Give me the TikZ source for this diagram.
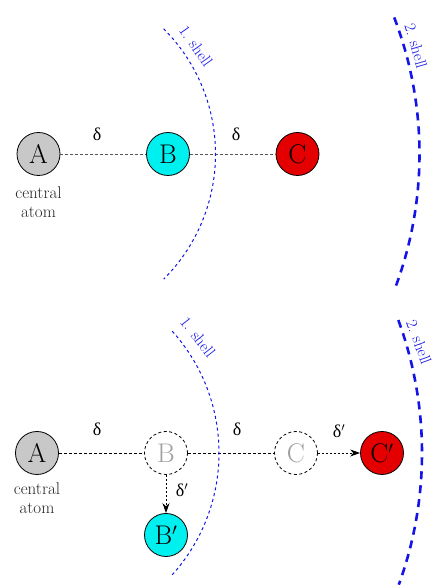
\documentclass[tikz,border=0pt]{standalone}
\usepackage{fontspec}
\newfontfamily\grk{Liberation Serif}
\usetikzlibrary{arrows.meta}
\definecolor{atomgrey}{RGB}{200,200,200}
\definecolor{atomcyan}{RGB}{0,240,240}
\definecolor{atomred}{RGB}{228,0,0}
\definecolor{shellblue}{RGB}{20,20,230}
\definecolor{ghostgrey}{RGB}{160,160,160}
\definecolor{linkgrey}{RGB}{85,85,85}
\tikzset{
  atom/.style={circle,draw=black,line width=0.8pt,minimum size=43pt,inner sep=0pt,font=\fontsize{27}{29}\selectfont},
  ghost/.style={atom,dashed,text=ghostgrey,dash pattern=on 3pt off 2.5pt},
  link/.style={line width=0.8pt,dash pattern=on 3pt off 2pt},
  move/.style={line width=0.8pt,dash pattern=on 2pt off 2pt,-{Stealth[length=10pt,width=7pt]}},
  dlabel/.style={font=\grk\fontsize{18}{20}\selectfont},
  caption/.style={align=center,font=\fontsize{17}{19}\selectfont,text=black!85},
  shellone/.style={draw=shellblue,line width=1pt,dash pattern=on 3pt off 3pt},
  shelltwo/.style={draw=shellblue,line width=2.6pt,dash pattern=on 8pt off 6pt},
  shelllabel/.style={text=shellblue,font=\fontsize{16}{18}\selectfont,inner sep=0pt}
}
\begin{document}
\begin{tikzpicture}[x=1pt,y=1pt]
\useasboundingbox (0,0) rectangle (435,585);
% ---------- top panel ----------
\node[atom,fill=atomgrey] (A1) at (38.5,431) {A};
\node[atom,fill=atomcyan] (B1) at (168,431) {B};
\node[atom,fill=atomred] (C1) at (297.5,431) {C};
\draw[link,draw=linkgrey] (A1) -- (B1);
\draw[link,draw=linkgrey] (B1) -- (C1);
\node[dlabel] (d1) at (97,451) {δ};
\node[dlabel] (d2) at (236,451) {δ};
\node[caption] (ca1) at (38.5,383) {central\\atom};
\draw[shellone] ([shift={(A1.center)}]45:177) arc[start angle=45,end angle=-45,radius=177];
\draw[shelltwo] ([shift={(A1.center)}]21:381) arc[start angle=21,end angle=-21,radius=381];
\node[shelllabel,rotate=-55] (s11) at (196,539) {1. shell};
\node[shelllabel,rotate=-74] (s21) at (416,539) {2. shell};
% ---------- bottom panel ----------
\node[atom,fill=atomgrey] (A2) at (37,132) {A};
\node[ghost] (B2) at (166,132) {B};
\node[ghost] (C2) at (296,132) {C};
\node[atom,fill=atomred] (C2p) at (382,132) {C$'$};
\node[atom,fill=atomcyan] (B2p) at (166,50) {B$'$};
\draw[link] (A2) -- (B2);
\draw[link] (B2) -- (C2);
\draw[move] (C2) -- (C2p);
\draw[move] (B2) -- (B2p);
\node[dlabel] (d3) at (97,156) {δ};
\node[dlabel] (d4) at (237,156) {δ};
\node[dlabel] (d5) at (339,154) {δ$'$};
\node[dlabel] (d6) at (182,95) {δ$'$};
\node[caption] (ca2) at (37,86.5) {central\\atom};
\draw[shellone] ([shift={(A2.center)}]42:182) arc[start angle=42,end angle=-42,radius=182];
\draw[shelltwo] ([shift={(A2.center)}]20.2:385) arc[start angle=20.2,end angle=-20,radius=385];
\node[shelllabel,rotate=-52] (s12) at (198,248) {1. shell};
\node[shelllabel,rotate=-70] (s22) at (419,243) {2. shell};
\end{tikzpicture}
\end{document}
